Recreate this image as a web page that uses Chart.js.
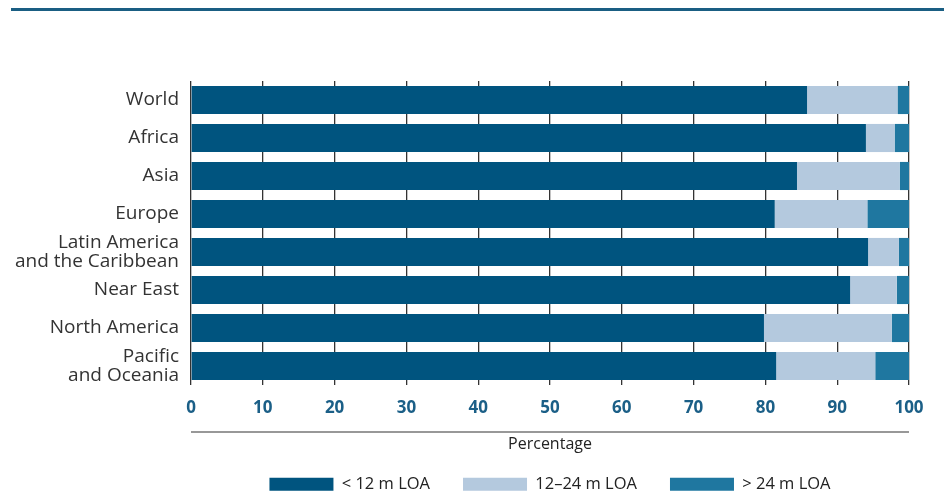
<!DOCTYPE html>
<html>
<head>
<meta charset="utf-8">
<script src="https://cdn.jsdelivr.net/npm/chart.js@4"></script>
<style>
  html, body { margin: 0; padding: 0; background: #fff; }
  #wrap { width: 944px; height: 492px; position: relative; }
</style>
</head>
<body>
<div id="wrap"><canvas id="chart"></canvas></div>
<script>
const regions = ['World', 'Africa', 'Asia', 'Europe', ['Latin America', 'and the Caribbean'], 'Near East', 'North America', ['Pacific', 'and Oceania']];
const under12 = [85.8, 94.0, 84.4, 81.3, 94.3, 91.8, 79.8, 81.5];
const from12to24 = [12.6, 4.0, 14.3, 12.9, 4.3, 6.5, 17.8, 13.8];
const over24 = [1.6, 2.0, 1.3, 5.8, 1.4, 1.7, 2.4, 4.7];
const xTicks = [0, 10, 20, 30, 40, 50, 60, 70, 80, 90, 100];

const FONT = "'Open Sans', 'Noto Sans', sans-serif";

// top rule, the line above the axis title, legend centred under the plot
const decor = {
  id: 'decor',
  afterLayout(chart) {
    chart.legend.left = chart.chartArea.left;
    chart.legend.right = chart.chartArea.right;
  },
  afterDraw(chart) {
    const ctx = chart.ctx;
    const area = chart.chartArea;
    ctx.save();
    ctx.fillStyle = '#1a5e83';
    ctx.fillRect(11, 8, chart.width - 11, 3);
    ctx.strokeStyle = '#333';
    ctx.lineWidth = 1.2;
    ctx.beginPath();
    ctx.moveTo(area.left, area.bottom + 47);
    ctx.lineTo(area.right, area.bottom + 47);
    ctx.stroke();
    ctx.restore();
  }
};

new Chart(document.getElementById('chart'), {
  type: 'bar',
  data: {
    labels: regions,
    datasets: [
      { label: '< 12 m LOA', data: under12, backgroundColor: '#00547f' },
      { label: '12\u201324 m LOA', data: from12to24, backgroundColor: '#b4c9de' },
      { label: '> 24 m LOA', data: over24, backgroundColor: '#1f77a0' }
    ]
  },
  options: {
    indexAxis: 'y',
    responsive: true,
    maintainAspectRatio: false,
    animation: false,
    categoryPercentage: 1,
    barPercentage: 0.74,
    layout: { padding: { top: 81, right: 35, left: 0, bottom: 0 } },
    scales: {
      x: {
        stacked: true,
        min: 0,
        max: 100,
        afterBuildTicks: (axis) => { axis.ticks = xTicks.map(v => ({ value: v })); },
        afterFit: (axis) => { axis.height = 58; },
        grid: { color: '#333', lineWidth: 1.3, drawTicks: false },
        border: { display: false },
        ticks: {
          padding: 13,
          color: '#1b5f87',
          font: { family: FONT, size: 17, weight: 'bold' }
        },
        title: {
          display: true,
          text: 'Percentage',
          color: '#222',
          padding: { top: 0, bottom: -11 },
          font: { family: FONT, size: 16 }
        }
      },
      y: {
        stacked: true,
        afterFit: (axis) => { axis.width = 191; },
        grid: { display: false },
        border: { display: false },
        ticks: {
          autoSkip: false,
          padding: 4,
          color: '#333',
          font: { family: FONT, size: 19, lineHeight: 0.98 }
        }
      }
    },
    plugins: {
      legend: {
        position: 'bottom',
        maxHeight: 49,
        labels: {
          boxWidth: 64,
          boxHeight: 13,
          padding: 33,
          color: '#222',
          font: { family: FONT, size: 16.5 }
        }
      },
      tooltip: { enabled: false }
    }
  },
  plugins: [decor]
});
</script>
</body>
</html>
